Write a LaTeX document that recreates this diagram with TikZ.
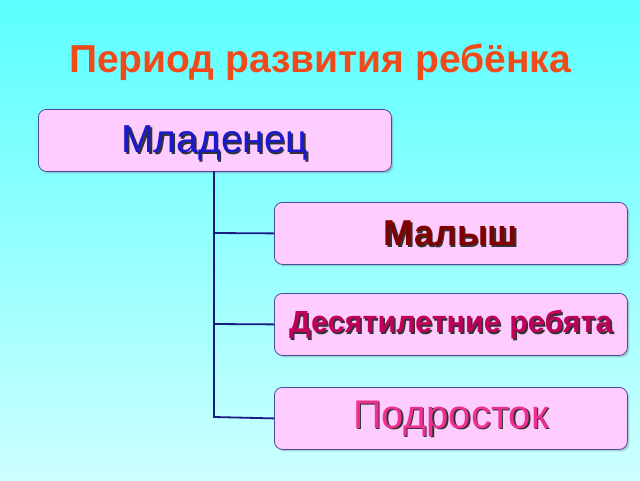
\documentclass[tikz,border=0pt]{standalone}
\usepackage{fontspec}
\setmainfont{Liberation Sans}
\usetikzlibrary{shadows}
\definecolor{bgtop}{HTML}{5CFFFF}
\definecolor{bgbot}{HTML}{CCFFFF}
\definecolor{boxfill}{HTML}{FFCCFF}
\definecolor{boxline}{HTML}{4A4A9A}
\definecolor{conn}{HTML}{1A1A80}
\definecolor{ttl}{HTML}{F04A1A}
\definecolor{cblue}{HTML}{1A1ACC}
\definecolor{cmaroon}{HTML}{800000}
\definecolor{cplum}{HTML}{C0005A}
\definecolor{cpink}{HTML}{F03090}
\begin{document}
\begin{tikzpicture}[x=1pt,y=-1pt,
  box/.style={draw=boxline,line width=0.8pt,fill=boxfill,rounded corners=8pt,minimum width=353pt,minimum height=62pt,inner sep=0pt,anchor=north west,drop shadow={shadow xshift=2pt,shadow yshift=-2pt,opacity=0.35}},
  lab/.style={inner sep=0pt},
  sh/.style={lab,text=black!80,xshift=1.6pt,yshift=-1.6pt},
  conline/.style={draw=conn,line width=1.8pt}]
\shade[top color=bgtop,bottom color=bgbot] (0,0) rectangle (640,480);
\useasboundingbox (0,0) rectangle (640,480);
\node[lab,text=ttl,font=\bfseries\fontsize{39}{44}\selectfont] (title) at (320,62) {Период развития ребёнка};
\node[box] (b1) at (38,109) {};
\node[box] (b2) at (274,202) {};
\node[box] (b3) at (274,293) {};
\node[box] (b4) at (274,387) {};
\coordinate (t0) at (214,171);
\coordinate (t1) at (214,233);
\coordinate (t2) at (214,324);
\coordinate (t3) at (214,417);
\draw[conline] (t0) -- (t3) -- (b4.west);
\draw[conline] (t1) -- (b2.west);
\draw[conline] (t2) -- (b3.west);
\node[sh,font=\fontsize{39}{44}\selectfont] (s1) at ([yshift=-3pt]b1.center) {Младенец};
\node[lab,text=cblue,font=\fontsize{39}{44}\selectfont] (l1) at ([yshift=-3pt]b1.center) {Младенец};
\node[sh,font=\bfseries\fontsize{36}{42}\selectfont] (s2) at (b2.center) {Малыш};
\node[lab,text=cmaroon,font=\bfseries\fontsize{36}{42}\selectfont] (l2) at (b2.center) {Малыш};
\node[sh,font=\bfseries\fontsize{30.5}{35}\selectfont] (s3) at (b3.center) {Десятилетние ребята};
\node[lab,text=cplum,font=\bfseries\fontsize{30.5}{35}\selectfont] (l3) at (b3.center) {Десятилетние ребята};
\node[sh,font=\fontsize{40}{46}\selectfont] (s4) at (b4.center) {Подросток};
\node[lab,text=cpink,font=\fontsize{40}{46}\selectfont] (l4) at (b4.center) {Подросток};
\end{tikzpicture}
\end{document}
